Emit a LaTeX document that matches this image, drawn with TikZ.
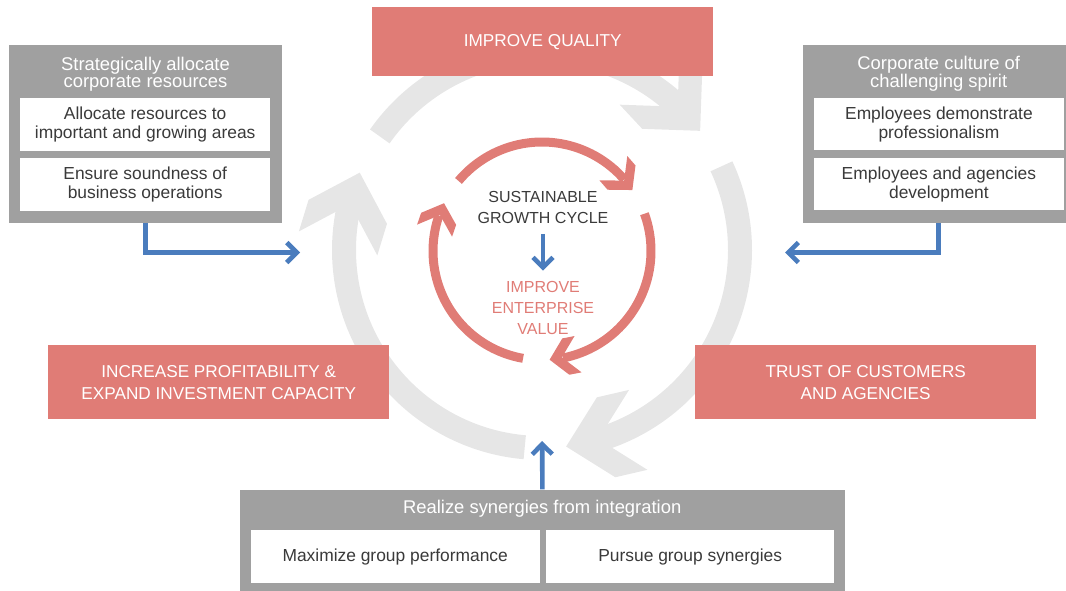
\documentclass[tikz,border=0pt]{standalone}
\usepackage{fontspec}
\setmainfont{Liberation Sans}
\usetikzlibrary{arrows.meta}
\definecolor{salmon}{HTML}{E07C76}
\definecolor{boxgray}{HTML}{A0A0A0}
\definecolor{ringgray}{HTML}{E6E6E6}
\definecolor{arrowblue}{HTML}{4A7CBD}
\definecolor{textdark}{HTML}{3A3A3A}
\tikzset{
  redbox/.style={fill=salmon, text=white, inner sep=0pt, anchor=north west, align=center, font=\fontsize{17.2}{22}\selectfont},
  graybox/.style={fill=boxgray, inner sep=0pt, anchor=north west},
  whitebox/.style={fill=white, text=textdark, inner sep=0pt, anchor=north west, align=center, font=\fontsize{17.4}{19}\selectfont},
  headtext/.style={text=white, inner sep=0pt, align=center, font=\fontsize{18.4}{16.5}\selectfont},
  ringseg/.style={draw=ringgray, line width=24pt},
  ringhead/.style={fill=ringgray},
  cycleseg/.style={draw=salmon, line width=9pt},
  cyclehead/.style={fill=salmon},
  blueconn/.style={draw=arrowblue, line width=4.6pt, -{Straight Barb[length=10pt,width=20pt,sharp]}},
  centertext/.style={inner sep=0pt, align=center, font=\fontsize{16}{21}\selectfont}
}
\begin{document}
\begin{tikzpicture}[x=1pt,y=1pt]
\useasboundingbox (0,0) rectangle (1066,-591);
% big grey cycle
\begin{scope}[shift={(542,-250)}]
  \draw[ringseg] (145:198) arc[start angle=145,end angle=46,radius=198];
  \fill[ringhead, rotate=37, shift={(198,0)}, rotate=-84] (0,0) -- (-41,41) -- (-74,41) -- (-33,0) -- (-74,-41) -- (-41,-41) -- cycle;
  \draw[ringseg] (25:198) arc[start angle=25,end angle=-74,radius=198];
  \fill[ringhead, rotate=-83, shift={(198,0)}, rotate=-84] (0,0) -- (-41,41) -- (-74,41) -- (-33,0) -- (-74,-41) -- (-41,-41) -- cycle;
  \draw[ringseg] (265:198) arc[start angle=265,end angle=166,radius=198];
  \fill[ringhead, rotate=157, shift={(198,0)}, rotate=-84] (0,0) -- (-41,41) -- (-74,41) -- (-33,0) -- (-74,-41) -- (-41,-41) -- cycle;
\end{scope}
% inner salmon cycle
\begin{scope}[shift={(542,-251)}]
  \draw[cycleseg] (140:109) arc[start angle=140,end angle=41,radius=109];
  \fill[cyclehead, rotate=34, shift={(109,0)}, rotate=-83] (0,0) -- (-16.5,18.5) -- (-29,18.5) -- (-12.5,0) -- (-29,-18.5) -- (-16.5,-18.5) -- cycle;
  \draw[cycleseg] (20:109) arc[start angle=20,end angle=-79,radius=109];
  \fill[cyclehead, rotate=-86, shift={(109,0)}, rotate=-83] (0,0) -- (-16.5,18.5) -- (-29,18.5) -- (-12.5,0) -- (-29,-18.5) -- (-16.5,-18.5) -- cycle;
  \draw[cycleseg] (260:109) arc[start angle=260,end angle=161,radius=109];
  \fill[cyclehead, rotate=154, shift={(109,0)}, rotate=-83] (0,0) -- (-16.5,18.5) -- (-29,18.5) -- (-12.5,0) -- (-29,-18.5) -- (-16.5,-18.5) -- cycle;
\end{scope}
% salmon boxes
\node[redbox, minimum width=341pt, minimum height=69pt] (iq) at (372,-7) {IMPROVE QUALITY};
\node[redbox, minimum width=341pt, minimum height=74pt] (ipr) at (48,-345) {INCREASE PROFITABILITY \&\\EXPAND INVESTMENT CAPACITY};
\node[redbox, minimum width=341pt, minimum height=74pt] (tca) at (695,-345) {TRUST OF CUSTOMERS\\AND AGENCIES};
% left grey box
\node[graybox, minimum width=273pt, minimum height=178pt] (lgb) at (9,-45) {};
\node[headtext] (lgh) at (145.5,-74) {Strategically allocate\\corporate resources};
\node[whitebox, minimum width=250pt, minimum height=53pt] (lw1) at (20,-98) {Allocate resources to\\important and growing areas};
\node[whitebox, minimum width=250pt, minimum height=53pt] (lw2) at (20,-158) {Ensure soundness of\\business operations};
% right grey box
\node[graybox, minimum width=271pt, minimum height=178pt] (rgb) at (803,-45) {};
\node[headtext] (rgh) at (938.7,-74) {Corporate culture of\\challenging spirit};
\node[whitebox, minimum width=249.5pt, minimum height=52pt] (rw1) at (814,-98) {Employees demonstrate\\professionalism};
\node[whitebox, minimum width=249.5pt, minimum height=52pt] (rw2) at (814,-158) {Employees and agencies\\development};
% bottom grey box
\node[graybox, minimum width=605.7pt, minimum height=104pt] (bgb) at (239.3,-489.3) {};
\node[headtext] (bgh) at (542.2,-509) {Realize synergies from integration};
\node[whitebox, minimum width=288.6pt, minimum height=52.7pt] (bw1) at (250.7,-530) {Maximize group performance};
\node[whitebox, minimum width=288pt, minimum height=52.7pt] (bw2) at (546,-530) {Pursue group synergies};
% centre texts
\node[centertext, text=textdark] (sgc) at (543,-207.5) {SUSTAINABLE\\GROWTH CYCLE};
\node[centertext, text=salmon] (iev) at (543,-308) {IMPROVE\\ENTERPRISE\\VALUE};
% blue connectors
\coordinate (lend) at (300,-252.5);
\coordinate (rend) at (785,-252.5);
\coordinate (bottomend) at (542.2,-441);
\draw[blueconn] (lgb.south) |- (lend);
\draw[blueconn] (rgb.south) |- (rend);
\draw[blueconn] (bgb.north) -- (bottomend);
\draw[blueconn, shorten <=10pt, shorten >=10.5pt] (sgc.south) -- (iev.north);
\end{tikzpicture}
\end{document}
